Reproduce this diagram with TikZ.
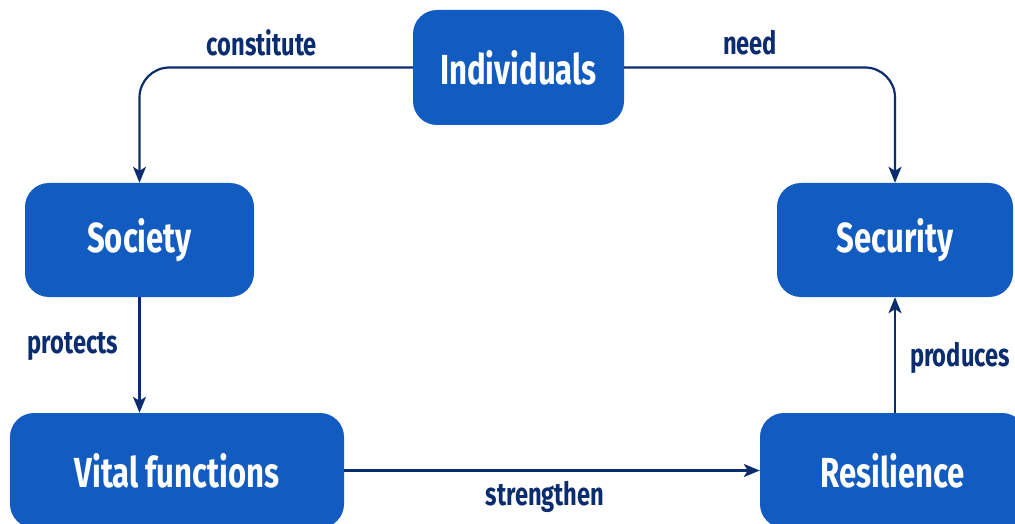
\documentclass[tikz,border=0pt]{standalone}
\usepackage{fontspec}
\setmainfont{Fira Sans}
\newfontfamily\diafont[FakeStretch=0.74]{Fira Sans}
\usetikzlibrary{arrows.meta}
\usetikzlibrary{positioning}
\definecolor{boxblue}{HTML}{125BC0}
\definecolor{linenavy}{HTML}{0B2D6F}

\begin{document}
\begin{tikzpicture}[
  x=1pt, y=-1pt,
  > = {Stealth[length=16pt,width=13pt,inset=4pt]},
  block/.style = {fill=boxblue, rounded corners=24pt, text=white, inner sep=0pt,
    font=\diafont\bfseries\fontsize{42}{44}\selectfont},
  link/.style = {draw=linenavy, line width=2.2pt, ->, rounded corners=30pt},
  lbl/.style = {text=linenavy, inner sep=0pt,
    font=\diafont\bfseries\fontsize{32}{34}\selectfont}
  ]
  \useasboundingbox (0,0) rectangle (1015,524);

	\node[block, minimum width=211pt, minimum height=115pt] (indiv)    at (518.5,67.5) {Individuals};
	\node[block, minimum width=229pt, minimum height=114pt] (society)  at (139.5,240)  {Society};
	\node[block, minimum width=236pt, minimum height=114pt] (security) at (895,240)    {Security};
	\node[block, minimum width=334pt, minimum height=115pt] (vital)    at (177,470.5)  {Vital functions};
	\node[block, minimum width=266pt, minimum height=115pt] (resil)    at (893,470.5)  {Resilience};

	\draw[link] (indiv.west) -| (society.north);
	\draw[link] (indiv.east) -| (security.north);
	\draw[link] (society.south) -- (society.south |- vital.north);
	\draw[link] (vital.east) -- (resil.west);
	\draw[link] (resil.north -| security.south) -- (security.south);

	\node[lbl] (constitute) at (262,43)  {constitute};
	\node[lbl] (need)       at (750,43)  {need};
	\node[lbl] (protects)   at (73,346)  {protects};
	\node[lbl] (produces)   at (960,358) {produces};
	\node[lbl] (strengthen) at (545,497) {strengthen};

\end{tikzpicture}
\end{document}
